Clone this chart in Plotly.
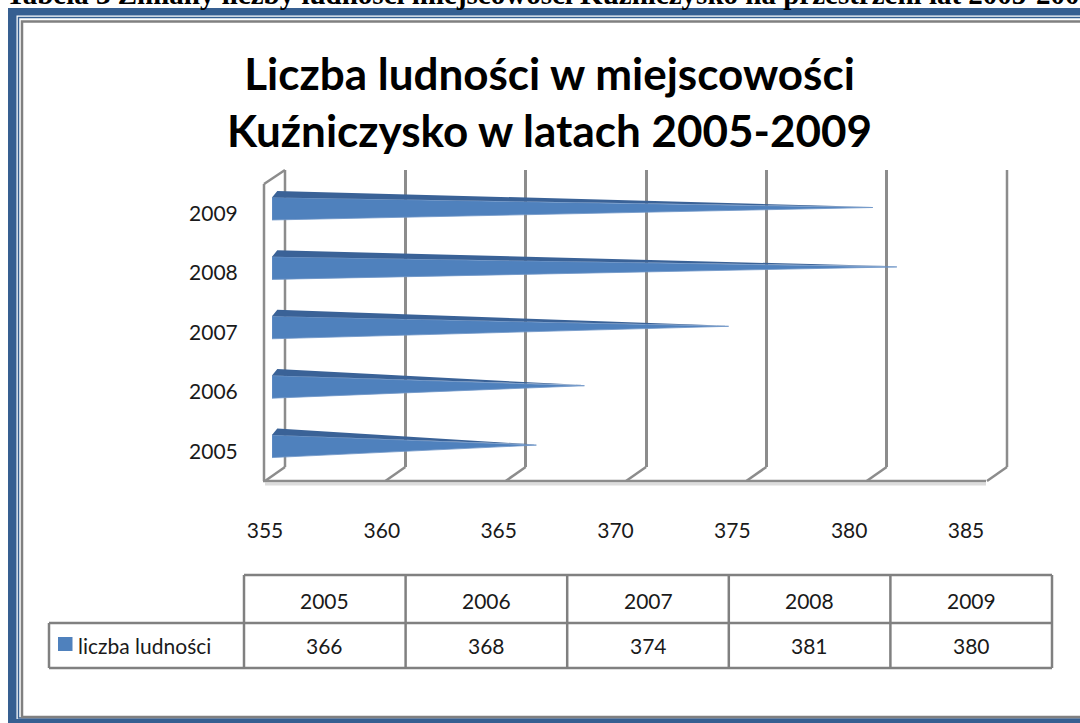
import plotly.graph_objects as go

# ---------------- data ----------------
years = ["2005", "2006", "2007", "2008", "2009"]
population = [366, 368, 374, 381, 380]
axis_ticks = [355, 360, 365, 370, 375, 380, 385]
series_name = "liczba ludności"
title_text = "Liczba ludności w miejscowości<br>Kuźniczysko w latach 2005-2009"
caption_text = "Tabela 3 Zmiany liczby ludności miejscowości Kuźniczysko na przestrzeni lat 2005-2009"

W, H = 1080, 723
FONT = "Lato"
BLUE = "#4F81BD"
BLUE_DARK = "#3A6297"
GRID = "#8C8C8C"
FRAME = "#365F91"


def px(x):
    return x / W


def py(y):
    return 1 - y / H


x_min, x_max = axis_ticks[0], axis_ticks[-1]
cat_idx = list(range(len(years)))

# ---------------- bar (cone) polygons built from data ----------------
hw = 0.19      # half height of the cone base (category units)
front_x, front_y, top_x, top_y = [], [], [], []
for i, v in zip(cat_idx, population):
    front_x += [x_min, x_min, v, x_min, None]
    front_y += [i - hw, i + hw, i + 0.02, i - hw, None]
    top_x += [x_min, x_min + 0.22, v, x_min, None]
    top_y += [i + hw, i + hw + 0.11, i + 0.03, i + hw, None]

fig = go.Figure()
# bars live on axis pair x3/y3 so they are drawn above the grid of x2/y2
fig.add_trace(go.Scatter(x=front_x, y=front_y, xaxis="x3", yaxis="y3", mode="lines",
                         fill="toself", fillcolor=BLUE, line=dict(width=0.8, color="#6E96C8"),
                         hoverinfo="skip", showlegend=False))
fig.add_trace(go.Scatter(x=top_x, y=top_y, xaxis="x3", yaxis="y3", mode="lines",
                         fill="toself", fillcolor=BLUE_DARK, line=dict(width=0),
                         hoverinfo="skip", showlegend=False))
# invisible traces so the label axes and the grid axes render
fig.add_trace(go.Scatter(x=[x_min], y=[0], mode="markers", marker=dict(opacity=0),
                         hoverinfo="skip", showlegend=False))
fig.add_trace(go.Scatter(x=[x_min], y=[0], xaxis="x2", yaxis="y2", mode="markers",
                         marker=dict(opacity=0), hoverinfo="skip", showlegend=False))

# front floor / label geometry
front_x0, front_x1, front_top, front_bot = 265, 986, 184, 481
label_x1 = 966
# back wall (grid) axes, shifted for the 3D depth
dx, dy = 20, -14
back_x0, back_x1, back_top, back_bot = front_x0 + dx, front_x1 + dx + 1, 170, front_bot + dy
# bar axes (mid depth)
bar_x0, bar_x1, bar_top, bar_bot = front_x0 + 7, front_x1 + 7, front_top - 5, front_bot - 5


def back_px(v):
    return back_x0 + (v - x_min) / (x_max - x_min) * (back_x1 - back_x0)


shapes = []

# ---------------- frame ----------------
shapes.append(dict(type="rect", xref="paper", yref="paper", x0=px(8), x1=px(1100), y0=py(730), y1=py(8),
                   fillcolor=FRAME, line=dict(width=0), layer="below"))
shapes.append(dict(type="rect", xref="paper", yref="paper", x0=px(16.5), x1=px(1100), y0=py(719), y1=py(15.5),
                   fillcolor="white", line=dict(width=0), layer="below"))
shapes.append(dict(type="rect", xref="paper", yref="paper", x0=px(18.5), x1=px(1100), y0=py(718), y1=py(17.5),
                   fillcolor="rgba(0,0,0,0)", line=dict(width=1.5, color=FRAME), layer="below"))
shapes.append(dict(type="rect", xref="paper", yref="paper", x0=px(22), x1=px(1100), y0=py(717), y1=py(21.5),
                   fillcolor="white", line=dict(width=2.5, color="#808080"), layer="below"))

# ---------------- 3D walls / floor ----------------
wall = dict(color=GRID, width=2.5)
shapes.append(dict(type="line", xref="paper", yref="paper", x0=px(front_x0 - 1), x1=px(front_x0 - 1),
                   y0=py(front_bot), y1=py(front_top), line=wall, layer="below"))
shapes.append(dict(type="line", xref="paper", yref="paper", x0=px(front_x0 - 1), x1=px(back_x0),
                   y0=py(front_top), y1=py(back_top), line=wall, layer="below"))
shapes.append(dict(type="line", xref="paper", yref="paper", x0=px(front_x0), x1=px(front_x1),
                   y0=py(front_bot + 3), y1=py(front_bot + 3), line=dict(color="#DCDCDC", width=3),
                   layer="below"))
shapes.append(dict(type="line", xref="paper", yref="paper", x0=px(front_x0 - 2), x1=px(front_x1),
                   y0=py(front_bot), y1=py(front_bot), line=wall, layer="below"))
# back wall end lines (first and last tick)
for v in (axis_ticks[0], axis_ticks[-1]):
    shapes.append(dict(type="line", xref="paper", yref="paper", x0=px(back_px(v)), x1=px(back_px(v)),
                       y0=py(back_bot), y1=py(back_top), line=wall, layer="below"))
# floor diagonals at each tick
for v in axis_ticks:
    shapes.append(dict(type="line", xref="paper", yref="paper",
                       x0=px(back_px(v) - dx), x1=px(back_px(v)),
                       y0=py(front_bot), y1=py(back_bot), line=wall, layer="below"))

# ---------------- data table ----------------
tbl = dict(color="#808080", width=2.5)
col0, colw = 244, 161.6
t_top, t_mid, t_bot, leg_left = 575, 623, 668, 49
ncol = len(years)
col_edges = [col0 + k * colw for k in range(ncol + 1)]
shapes.append(dict(type="line", xref="paper", yref="paper", x0=px(col0), x1=px(col_edges[-1]),
                   y0=py(t_top), y1=py(t_top), line=tbl))
shapes.append(dict(type="line", xref="paper", yref="paper", x0=px(leg_left), x1=px(col_edges[-1]),
                   y0=py(t_mid), y1=py(t_mid), line=tbl))
shapes.append(dict(type="line", xref="paper", yref="paper", x0=px(leg_left), x1=px(col_edges[-1]),
                   y0=py(t_bot), y1=py(t_bot), line=tbl))
shapes.append(dict(type="line", xref="paper", yref="paper", x0=px(leg_left), x1=px(leg_left),
                   y0=py(t_mid), y1=py(t_bot), line=tbl))
for e in col_edges:
    shapes.append(dict(type="line", xref="paper", yref="paper", x0=px(e), x1=px(e),
                       y0=py(t_top), y1=py(t_bot), line=tbl))
# legend key
shapes.append(dict(type="rect", xref="paper", yref="paper", x0=px(58), x1=px(72.5), y0=py(651), y1=py(637),
                   fillcolor=BLUE, line=dict(width=0)))

annotations = []
cell_font = dict(family=FONT, size=21, color="#1a1a1a")
for k, (yr, val) in enumerate(zip(years, population)):
    cx = px(col0 + (k + 0.5) * colw)
    annotations.append(dict(xref="paper", yref="paper", x=cx, y=py(600), text=yr, showarrow=False,
                            xanchor="center", yanchor="middle", font=cell_font))
    annotations.append(dict(xref="paper", yref="paper", x=cx, y=py(645), text=str(val), showarrow=False,
                            xanchor="center", yanchor="middle", font=cell_font))
annotations.append(dict(xref="paper", yref="paper", x=px(76), y=py(645), text=series_name, showarrow=False,
                        xanchor="left", yanchor="middle", font=cell_font))

# title
annotations.append(dict(xref="paper", yref="paper", x=px(549), y=py(102), text=title_text, showarrow=False,
                        xanchor="center", yanchor="middle",
                        font=dict(family=FONT, size=44, color="#000000", weight="bold")))
# cropped caption at the very top
annotations.append(dict(xref="paper", yref="paper", x=px(4), y=py(12), text=caption_text, showarrow=False,
                        xanchor="left", yanchor="bottom",
                        font=dict(family="Liberation Serif", size=29, color="#000000", weight="bold")))

tick_font = dict(family=FONT, size=21, color="#1a1a1a")
fig.update_layout(
    template="none",
    width=W, height=H,
    autosize=False,
    margin=dict(l=0, r=0, t=0, b=0, pad=0, autoexpand=False),
    paper_bgcolor="white", plot_bgcolor="rgba(0,0,0,0)",
    showlegend=False,
    shapes=shapes, annotations=annotations,
    xaxis=dict(domain=[px(front_x0), px(label_x1)], range=[x_min, x_max], anchor="y",
               tickvals=axis_ticks, ticktext=[str(t) for t in axis_ticks], ticks="outside",
               ticklen=31, tickcolor="rgba(0,0,0,0)", showgrid=False, zeroline=False,
               showline=False, tickfont=tick_font, fixedrange=True, automargin=False),
    yaxis=dict(domain=[py(front_bot), py(front_top)], range=[-0.5, len(years) - 0.5], anchor="x",
               tickvals=cat_idx, ticktext=years, ticks="outside", ticklen=22,
               tickcolor="rgba(0,0,0,0)", showgrid=False, zeroline=False, showline=False,
               tickfont=tick_font, fixedrange=True, automargin=False),
    xaxis2=dict(domain=[px(back_x0), px(back_x1)], range=[x_min, x_max], anchor="y2",
                tickvals=axis_ticks, showticklabels=False, ticks="", showgrid=True,
                gridcolor=GRID, gridwidth=2.5, zeroline=False, showline=False, fixedrange=True,
                automargin=False),
    yaxis2=dict(domain=[py(back_bot), py(back_top)], range=[-0.5, len(years) - 0.5], anchor="x2",
                visible=False, fixedrange=True, automargin=False),
    xaxis3=dict(domain=[px(bar_x0), px(bar_x1)], range=[x_min, x_max], anchor="y3",
                visible=False, fixedrange=True, automargin=False),
    yaxis3=dict(domain=[py(bar_bot), py(bar_top)], range=[-0.5, len(years) - 0.5], anchor="x3",
                visible=False, fixedrange=True, automargin=False),
)

fig.write_html(
    "out.html",
    config={"displayModeBar": False},
    post_script="document.body.style.margin='0';document.body.style.padding='0';"
                "document.body.style.overflow='hidden';"
                "document.documentElement.style.overflow='hidden';",
)
